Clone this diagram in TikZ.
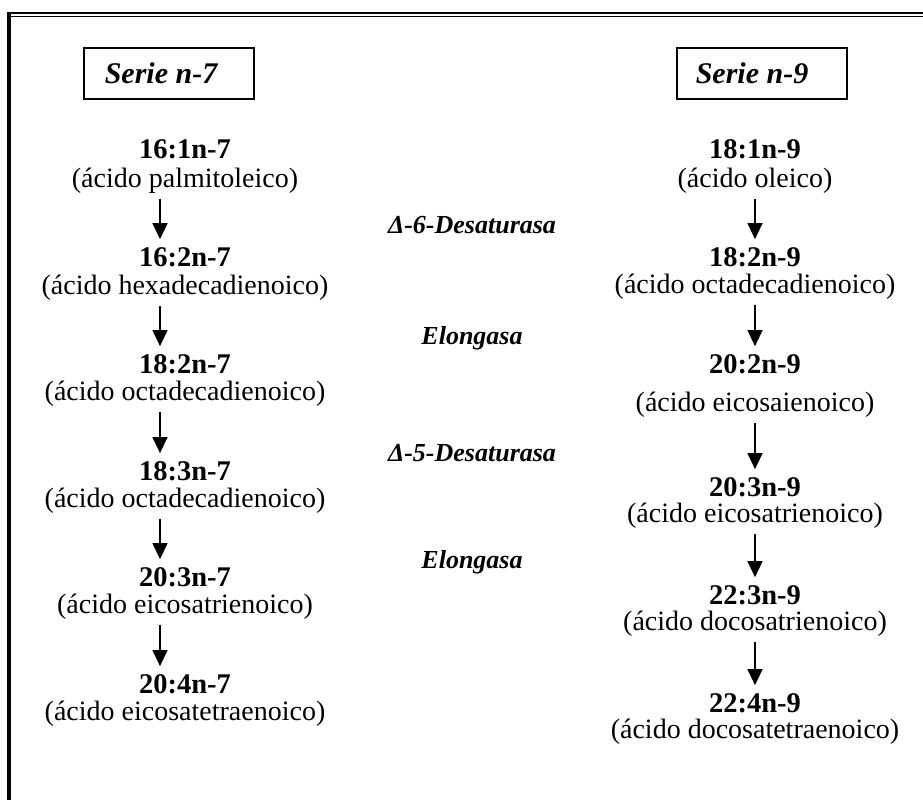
\documentclass[tikz,border=0pt]{standalone}
\usepackage{fontspec}
\setmainfont{Liberation Serif}
\usetikzlibrary{arrows.meta}
\begin{document}
\begin{tikzpicture}[x=1pt,y=-1pt,
  code/.style={font=\fontsize{28.5}{30}\selectfont\bfseries, inner sep=0pt},
  acid/.style={font=\fontsize{28}{30}\selectfont, inner sep=0pt},
  enzyme/.style={font=\fontsize{26}{28}\selectfont\bfseries\itshape, inner sep=0pt},
  seriebox/.style={draw, line width=1.3pt, minimum width=170pt, minimum height=51pt, inner sep=0pt},
  serietext/.style={font=\fontsize{30}{32}\selectfont\bfseries\itshape, inner sep=0pt},
  conv/.style={-{Triangle[width=15pt,length=16pt]}, line width=1.3pt, shorten <=5pt, shorten >=8pt}
]
\useasboundingbox (0,0) rectangle (923,800);

% page frame: thick-thin rule on top, heavy rule on the left
\draw[line width=3.4pt] (9,12.7) -- (9,800);
\draw[line width=2pt] (7.3,13.5) -- (923,13.5);
\draw[line width=1.2pt] (10.7,16.4) -- (923,16.4);

% series headers
\node[seriebox] (h7) at (169,73.5) {};
\node[serietext] (t7) at (161,73.5) {Serie n-7};
\node[seriebox] (h9) at (762,73.5) {};
\node[serietext] (t9) at (752,73.5) {Serie n-9};

% n-7 series
\node[code] (a1) at (185,149) {16:1n-7};
\node[acid] (b1) at (185,181) {(ácido palmitoleico)};
\node[code] (a2) at (185,257) {16:2n-7};
\node[acid] (b2) at (185,288) {(ácido hexadecadienoico)};
\node[code] (a3) at (185,364) {18:2n-7};
\node[acid] (b3) at (185,394) {(ácido octadecadienoico)};
\node[code] (a4) at (185,471) {18:3n-7};
\node[acid] (b4) at (185,501) {(ácido octadecadienoico)};
\node[code] (a5) at (185,577) {20:3n-7};
\node[acid] (b5) at (185,607) {(ácido eicosatrienoico)};
\node[code] (a6) at (185,684) {20:4n-7};
\node[acid] (b6) at (185,714) {(ácido eicosatetraenoico)};

% n-9 series
\node[code] (c1) at (755,149) {18:1n-9};
\node[acid] (d1) at (755,181) {(ácido oleico)};
\node[code] (c2) at (755,257) {18:2n-9};
\node[acid] (d2) at (755,287) {(ácido octadecadienoico)};
\node[code] (c3) at (755,364) {20:2n-9};
\node[acid] (d3) at (755,405) {(ácido eicosaienoico)};
\node[code] (c4) at (755,487) {20:3n-9};
\node[acid] (d4) at (755,516) {(ácido eicosatrienoico)};
\node[code] (c5) at (755,595) {22:3n-9};
\node[acid] (d5) at (755,624) {(ácido docosatrienoico)};
\node[code] (c6) at (755,703) {22:4n-9};
\node[acid] (d6) at (755,732) {(ácido docosatetraenoico)};

% enzymes
\node[enzyme] (e1) at (472,225) {Δ-6-Desaturasa};
\node[enzyme] (e2) at (472,338) {Elongasa};
\node[enzyme] (e3) at (472,453) {Δ-5-Desaturasa};
\node[enzyme] (e4) at (472,562) {Elongasa};

% conversion arrows
\foreach \i/\j in {1/2,2/3,3/4,4/5,5/6}{
  \draw[conv] ([xshift=-25pt]b\i.south) -- ([xshift=-25pt]a\j.north);
  \draw[conv] (d\i.south) -- (c\j.north);
}
\end{tikzpicture}
\end{document}
